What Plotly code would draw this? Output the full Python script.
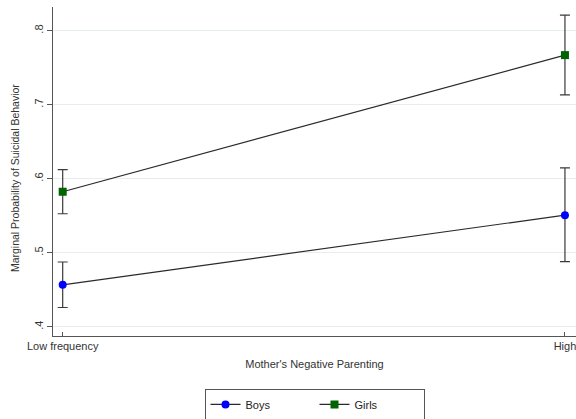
import plotly.graph_objects as go

categories = ["Low frequency", "High"]
x_pos = [0, 1]
boys = [0.4566, 0.5508]
boys_hi = [0.4875, 0.6147]
boys_lo = [0.4260, 0.4880]
girls = [0.5824, 0.7670]
girls_hi = [0.6124, 0.8210]
girls_lo = [0.5527, 0.7134]
ytick_vals = [0.4, 0.5, 0.6, 0.7, 0.8]
ytick_text = [".4", ".5", ".6", ".7", ".8"]
y_title = "Marginal Probability of Suicidal Behavior"
x_title = "Mother's Negative Parenting"

def err(vals, hi, lo):
    return dict(type="data", symmetric=False,
                array=[h - v for h, v in zip(hi, vals)],
                arrayminus=[v - l for v, l in zip(vals, lo)],
                color="#3a3a3a", thickness=1.2, width=5)

fig = go.Figure()
fig.add_trace(go.Scatter(x=x_pos, y=boys, mode="lines+markers", name="Boys",
                         line=dict(color="#2a2a2a", width=1.2),
                         marker=dict(color="#0000ff", size=8, symbol="circle"),
                         error_y=err(boys, boys_hi, boys_lo), cliponaxis=False))
fig.add_trace(go.Scatter(x=x_pos, y=girls, mode="lines+markers", name="Girls",
                         line=dict(color="#2a2a2a", width=1.2),
                         marker=dict(color="#006400", size=8, symbol="square"),
                         error_y=err(girls, girls_hi, girls_lo), cliponaxis=False))

font = "Liberation Sans, Arial, sans-serif"
fig.update_layout(
    width=576, height=419,
    margin=dict(l=53, r=0, t=7, b=83, autoexpand=False),
    paper_bgcolor="white", plot_bgcolor="white",
    font=dict(family=font, size=11, color="#333"),
    showlegend=True,
    legend=dict(orientation="h", x=0.5, xanchor="center", y=-0.161, yanchor="top",
                bordercolor="#555", borderwidth=1, font=dict(size=11, color="#222"),
                entrywidth=64, entrywidthmode="pixels"),
    xaxis=dict(range=[-0.0193, 1.022], tickvals=x_pos, ticktext=categories,
               showgrid=False, zeroline=False, showline=True, linecolor="#555",
               linewidth=1.2, ticks="inside", ticklen=4, tickcolor="#555",
               automargin=False, ticklabeloverflow="allow",
               title=dict(text=x_title, font=dict(size=11), standoff=9)),
    yaxis=dict(range=[0.3875, 0.832], tickvals=ytick_vals, ticktext=ytick_text,
               tickangle=-90, showgrid=True, gridcolor="#e6eeee", gridwidth=1,
               zeroline=False, showline=True, linecolor="#555", linewidth=1.2,
               ticks="outside", ticklen=5, tickcolor="#555", automargin=False),
    annotations=[dict(text=y_title, xref="paper", yref="paper", x=0, y=0.48,
                      xanchor="center", yanchor="middle", xshift=-38, textangle=-90,
                      showarrow=False, font=dict(size=10.5, color="#333"))],
)
fig.write_html("out.html", post_script="document.body.style.margin='0px';",
               config={"displayModeBar": False})
